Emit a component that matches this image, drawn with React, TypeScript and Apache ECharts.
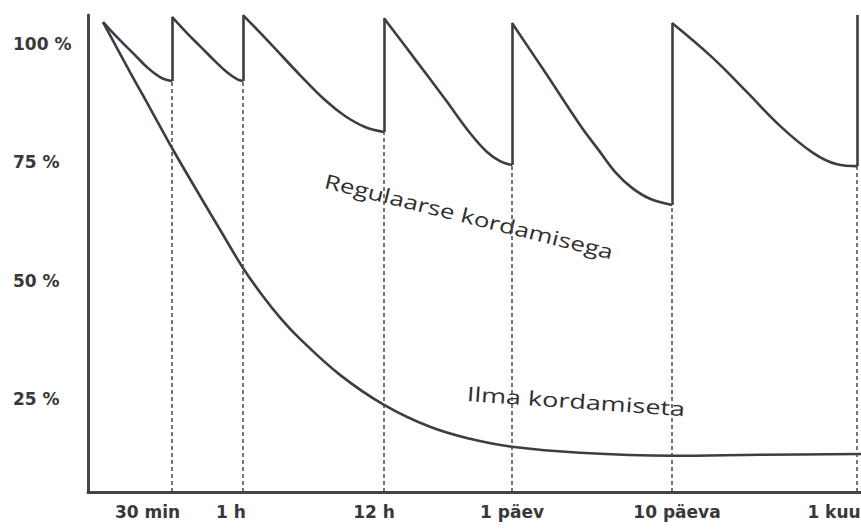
import React, { useEffect, useRef } from "react";
import * as echarts from "echarts";

// x axis: schematic time units (not to scale), y axis: retention in %
const X_MIN = 0;
const X_MAX = 79;
const Y_MIN = 5.4;
const Y_MAX = 106.1;

const tickLabels = ["30 min", "1 h", "12 h", "1 päev", "10 päeva", "1 kuu"];
const tickLabelX = [5.95, 14.3, 28.6, 42.4, 58.9, 74.6];
const yTickValues = [25, 50, 75, 100];

// review moments (dashed lines)
const reviewX = [8.4, 15.5, 29.6, 42.4, 58.4, 76.9];
const reviewTrough = [92.15, 92.15, 81.39, 74.43, 66.0, 74.2];
const reviewPeak = [105.7, 106.08, 105.4, 104.4, 104.4, 106.1];

// with regular repetition: decay segments between reviews
const seg0 = [[1.5, 104.6], [2.9, 101.43], [4.5, 98.06], [6.0, 94.89], [7.2, 92.99], [7.9, 92.36], [8.4, 92.15]];
const seg1 = [[8.4, 105.7], [9.9, 102.28], [11.2, 99.54], [12.7, 96.37], [14.0, 93.84], [14.9, 92.57], [15.5, 92.15]];
const seg2 = [[15.5, 106.08], [18.2, 100.17], [21.2, 93.42], [23.7, 88.14], [25.7, 84.77], [27.7, 82.45], [29.6, 81.39]];
const seg3 = [[29.6, 105.4], [32.7, 96.79], [35.7, 88.35], [38.2, 81.18], [39.9, 77.17], [41.2, 75.27], [42.4, 74.43]];
const seg4 = [[42.4, 104.4], [45.7, 94.05], [49.2, 82.9], [51.2, 77.2], [52.7, 73.0], [54.4, 69.6], [56.2, 67.3], [58.4, 66.0]];
const seg5 = [[58.4, 104.4], [62.5, 97.0], [65.9, 89.8], [69.2, 82.7], [72.5, 77.0], [74.9, 74.6], [76.9, 74.2]];
const segments = [seg0, seg1, seg2, seg3, seg4, seg5];

// without repetition
const noReview = [
  [1.5, 104.6], [4.2, 94.05], [6.2, 86.46], [8.4, 78.02], [11.2, 67.89], [13.4, 60.08],
  [15.5, 52.7], [17.4, 47.0], [19.4, 41.73], [21.2, 37.72], [25.2, 30.13], [29.6, 23.8],
  [34.2, 19.16], [38.2, 16.62], [42.4, 14.94], [49.2, 13.67], [58.4, 13.04], [67.2, 13.25],
  [79, 13.46],
];

const CURVE = "#3a3e46";
const AXIS = "#454545";
const LABEL_FONT = "DejaVu Sans";

export default function App() {
  const ref = useRef<HTMLDivElement>(null);

  useEffect(() => {
    if (!ref.current) return;
    const chart = echarts.init(ref.current, undefined, { renderer: "svg" });

    const curveSeries = segments.map((seg, i) => ({
      type: "line",
      name: "seg" + i,
      data: seg,
      smooth: 0.4,
      symbol: "none",
      showSymbol: false,
      silent: true,
      lineStyle: { color: CURVE, width: 2.6 },
      z: 3,
    }));

    const dashed = reviewX.map((x, i) => [
      { coord: [x, Y_MIN], lineStyle: { type: [4, 3], width: 1.5, color: "#4a4a4a" } },
      { coord: [x, reviewTrough[i]] },
    ]);
    const jumps = reviewX.map((x, i) => [
      { coord: [x, reviewTrough[i]], lineStyle: { type: "solid", width: 2.6, color: CURVE } },
      { coord: [x, reviewPeak[i]] },
    ]);

    const option: any = {
      animation: false,
      backgroundColor: "#ffffff",
      grid: {
        left: 88,
        top: 15,
        width: 790,
        height: 477,
        containLabel: false,
        outerBoundsMode: "none",
      },
      xAxis: {
        type: "value",
        min: X_MIN,
        max: X_MAX,
        splitLine: { show: false },
        axisTick: { show: false },
        axisLine: { show: true, lineStyle: { color: AXIS, width: 3 } },
        axisLabel: {
          customValues: tickLabelX,
          hideOverlap: false,
          margin: 11,
          color: "#383838",
          fontFamily: LABEL_FONT,
          fontWeight: "bold",
          fontSize: 17,
          formatter: (v: number) => {
            const i = tickLabelX.findIndex((x) => Math.abs(x - v) < 1e-6);
            return i >= 0 ? tickLabels[i] : "";
          },
        },
      },
      yAxis: {
        type: "value",
        min: Y_MIN,
        max: Y_MAX,
        splitLine: { show: false },
        axisTick: { show: false },
        axisLine: { show: true, lineStyle: { color: AXIS, width: 3 } },
        axisLabel: {
          customValues: yTickValues,
          align: "left",
          margin: 75,
          color: "#383838",
          fontFamily: LABEL_FONT,
          fontWeight: "bold",
          fontSize: 17,
          formatter: (v: number) => v + " %",
        },
      },
      series: [
        {
          type: "line",
          name: "Ilma kordamiseta",
          data: noReview,
          smooth: 0.4,
          symbol: "none",
          showSymbol: false,
          silent: true,
          lineStyle: { color: CURVE, width: 2.6 },
          z: 3,
          markLine: {
            silent: true,
            symbol: ["none", "none"],
            label: { show: false },
            emphasis: { disabled: true },
            data: [...dashed, ...jumps],
          },
        },
        ...curveSeries,
      ],
      graphic: [
        {
          type: "text",
          x: 469,
          y: 216,
          rotation: (-14 * Math.PI) / 180,
          scaleX: 1.3,
          silent: true,
          style: {
            text: "Regulaarse kordamisega",
            fontFamily: "Open Sans",
            fontSize: 20,
            fill: "#2f2f2f",
            align: "center",
            verticalAlign: "middle",
          },
        },
        {
          type: "text",
          x: 576,
          y: 401,
          rotation: (-4 * Math.PI) / 180,
          scaleX: 1.35,
          silent: true,
          style: {
            text: "Ilma kordamiseta",
            fontFamily: "Open Sans",
            fontSize: 20,
            fill: "#2f2f2f",
            align: "center",
            verticalAlign: "middle",
          },
        },
      ],
    };

    chart.setOption(option);
    return () => chart.dispose();
  }, []);

  return (
    <div
      ref={ref}
      style={{ position: "fixed", left: 0, top: 0, width: 861, height: 529, background: "#fff" }}
    />
  );
}
